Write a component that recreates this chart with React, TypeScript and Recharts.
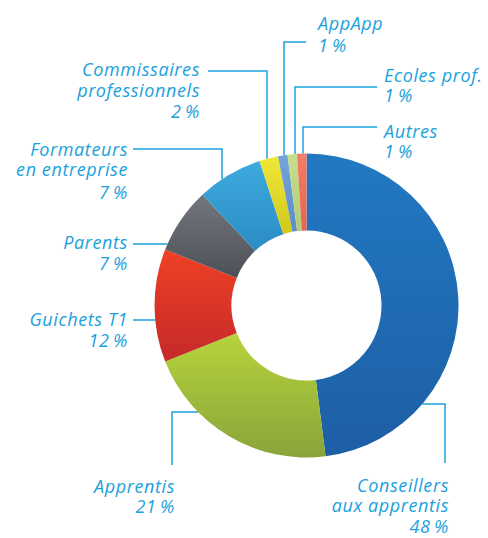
import { PieChart, Pie, Cell } from "recharts";

// slices, clockwise from 12 o'clock
const categories = [
  "Conseillers aux apprentis",
  "Apprentis",
  "Guichets T1",
  "Parents",
  "Formateurs en entreprise",
  "Commissaires professionnels",
  "AppApp",
  "Ecoles prof.",
  "Autres",
];
const shares = [48, 21, 12, 7, 7, 2, 1, 1, 1];
const labelRows = [
  ["Conseillers", "aux apprentis"],
  ["Apprentis"],
  ["Guichets T1"],
  ["Parents"],
  ["Formateurs", "en entreprise"],
  ["Commissaires", "professionnels"],
  ["AppApp"],
  ["Ecoles prof."],
  ["Autres"],
];

// gradient stops per slice [top, bottom]
const COLORS = [
  ["#2279c2", "#1d5ea5"],
  ["#b6d43c", "#8aa43a"],
  ["#ef4024", "#c42a2a"],
  ["#74767d", "#4d5157"],
  ["#3eaadf", "#2a8cc2"],
  ["#eee838", "#d2c81e"],
  ["#74a4da", "#5d8cc8"],
  ["#c8de8e", "#b4cc74"],
  ["#f47c68", "#e86452"],
];

const TEXT_COLOR = "#1ca1dc";

// label placement: text anchor, baselines, leader route (from text to elbow), then hit the ring
type Layout = {
  anchor: "start" | "end";
  x: number;
  ys: number[];
  route: [number, number][];
  hit: "h" | "v";
};
const LAYOUT: Layout[] = [
  { anchor: "end", x: 449, ys: [492, 512, 533], route: [[445, 463], [445, 404]], hit: "h" },
  { anchor: "end", x: 175, ys: [493, 513], route: [[172, 465], [172, 412]], hit: "h" },
  { anchor: "end", x: 128, ys: [326, 347], route: [[133, 320]], hit: "h" },
  { anchor: "end", x: 128, ys: [249, 270], route: [[133, 244]], hit: "h" },
  { anchor: "end", x: 128, ys: [156, 176, 199], route: [[133, 149], [222, 149]], hit: "v" },
  { anchor: "end", x: 200, ys: [76, 97, 118], route: [[208, 71], [267, 71]], hit: "v" },
  { anchor: "start", x: 318, ys: [30, 52], route: [[306, 42], [284, 42]], hit: "v" },
  { anchor: "start", x: 384, ys: [82, 102], route: [[377, 87], [295, 87]], hit: "v" },
  { anchor: "start", x: 384, ys: [138, 158], route: [[377, 127], [303, 127]], hit: "v" },
];

const data = categories.map((name, i) => ({ name, value: shares[i] }));

const renderLabel = (props: any) => {
  const { cx, cy, outerRadius, index } = props;
  const lay = LAYOUT[index];
  if (!lay) return null;
  const [lx, ly] = lay.route[lay.route.length - 1];
  let end: [number, number];
  if (lay.hit === "h") {
    const dx = Math.sqrt(Math.max(outerRadius * outerRadius - (ly - cy) * (ly - cy), 0));
    end = [lx < cx ? cx - dx : cx + dx, ly];
  } else {
    const dy = Math.sqrt(Math.max(outerRadius * outerRadius - (lx - cx) * (lx - cx), 0));
    end = [lx, cy - dy];
  }
  const pts = [...lay.route, end].map((p) => p.join(",")).join(" ");
  const rows = [...labelRows[index], `${shares[index]}\u2009%`];
  return (
    <g key={`lbl-${index}`}>
      <polyline points={pts} fill="none" stroke={TEXT_COLOR} strokeWidth={1.5} />
      {rows.map((r, j) => (
        <text
          key={j}
          x={lay.x}
          y={lay.ys[j]}
          textAnchor={lay.anchor}
          fill={TEXT_COLOR}
          fontFamily="'Open Sans', sans-serif"
          fontStyle="italic"
          fontSize={18}
          letterSpacing={0.6}
        >
          {r}
        </text>
      ))}
    </g>
  );
};

export default function App() {
  return (
    <div style={{ position: "fixed", left: 0, top: 0, width: 488, height: 538, background: "#fff" }}>
      <style>{`.recharts-pie-sectors { filter: drop-shadow(0 1px 2px rgba(0,0,0,0.25)); }`}</style>
      <PieChart width={488} height={538} margin={{ top: 0, right: 0, bottom: 0, left: 0 }}>
        <defs>
          {COLORS.map(([a, b], i) => (
            <linearGradient key={i} id={`grad-${i}`} x1="0" y1="0" x2="0" y2="1">
              <stop offset="0%" stopColor={a} />
              <stop offset="100%" stopColor={b} />
            </linearGradient>
          ))}
        </defs>
        <Pie
          data={data}
          dataKey="value"
          nameKey="name"
          cx={306.5}
          cy={305.5}
          innerRadius={75}
          outerRadius={152}
          startAngle={90}
          endAngle={-270}
          stroke="none"
          labelLine={false}
          label={renderLabel}
          isAnimationActive={false}
        >
          {data.map((entry, i) => (
            <Cell key={`cell-${i}`} fill={`url(#grad-${i})`} />
          ))}
        </Pie>
      </PieChart>
    </div>
  );
}
